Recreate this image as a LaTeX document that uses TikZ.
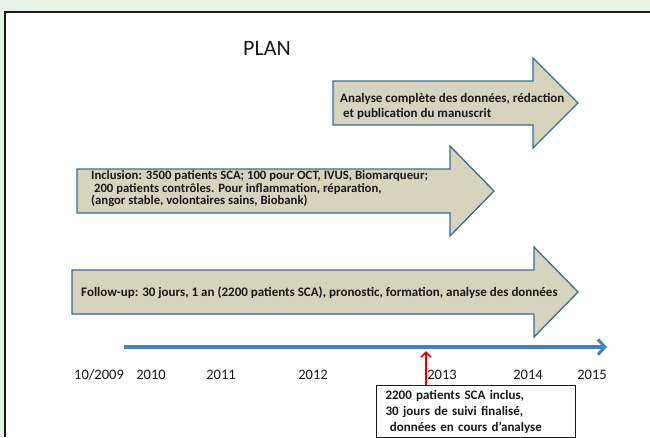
\documentclass[tikz,border=0pt]{standalone}
\usepackage{fontspec}
\setmainfont{Carlito}
\usepackage{xcolor}
\usetikzlibrary{arrows.meta}
\usetikzlibrary{calc}

\definecolor{fond}{RGB}{230,242,232}
\definecolor{beige}{RGB}{215,212,190}
\definecolor{bordfleche}{RGB}{66,104,150}
\definecolor{bleuaxe}{RGB}{74,126,187}

\begin{document}
\begin{tikzpicture}[x=1pt, y=-1pt,
    fleche/.style={draw=bordfleche, fill=beige, line width=1.3pt, line join=miter},
    etiquette/.style={anchor=west, align=left, inner sep=0pt, text=black!90,
      font=\bfseries\fontsize{13}{13}\selectfont},
    annee/.style={text=black!90, font=\fontsize{14.5}{16}\selectfont},
    boite/.style={draw=black!90, line width=1pt, fill=white, align=left,
      text width=181pt, inner xsep=9pt, minimum height=52pt, text=black!90,
      font=\bfseries\fontsize{13}{16}\selectfont}]

    \useasboundingbox (0,0) rectangle (650,437);
    \fill [fond] (0,0) rectangle (650,437);
    \fill [white] (5,12) rectangle (650,437);
    \draw [line width=1.2pt, black!90] (5,437) -- (5,12) -- (650,12);

    \newcommand\fleche[4]{%
      \draw [fleche] (#1,#4-22) -- (#2,#4-22) -- (#2,#4-45) -- (#3,#4)
      -- (#2,#4+45) -- (#2,#4+22) -- (#1,#4+22) -- cycle;}

    \node [font=\fontsize{22}{26}\selectfont, text=black!90] (plan) at (267,48) {PLAN};

    \fleche{333}{533}{578}{103}
    \fleche{77}{450}{494}{191}
    \fleche{72}{534}{578}{292}

    \node [etiquette, font=\bfseries\fontsize{13}{15}\selectfont] (analyse) at (340,106)
    {Analyse complète des données, rédaction\\ \ et publication du manuscrit};

    \node [etiquette, font=\bfseries\fontsize{12.7}{12.5}\selectfont] (inclusion) at (91,189)
    {Inclusion: 3500 patients SCA; 100 pour OCT, IVUS, Biomarqueur;\\
      \ 200 patients contrôles. Pour inflammation, réparation,\\
      (angor stable, volontaires sains, Biobank)};

    \node [etiquette] (suivi) at (81,293)
    {Follow-up: 30 jours, 1 an (2200 patients SCA), pronostic, formation, analyse des données};

    \coordinate (t0) at (124,347);
    \coordinate (t1) at (607,347);
    \draw [bleuaxe, line width=3.5pt,
      -{Straight Barb[length=7pt, width=15pt, line width=3pt]}] (t0) -- (t1);

    \node [annee] (a2009) at (99,375) {10/2009};
    \foreach \x/\a in {151/2010, 221/2011, 313/2012, 442/2013, 528/2014, 592/2015}
      \node [annee] (a\a) at (\x,375) {\a};

    \node [boite, anchor=north west] (bilan) at (376,385)
    {2200 patients SCA inclus,\\
      30 jours de suivi finalisé,\\
      \ données en cours d’analyse};

    \coordinate (jalon) at (426,351);
    \draw [red!90!black, line width=1.6pt,
      -{Straight Barb[length=5pt, width=10pt]}] (bilan.north -| jalon) -- (jalon);

  \end{tikzpicture}
\end{document}
